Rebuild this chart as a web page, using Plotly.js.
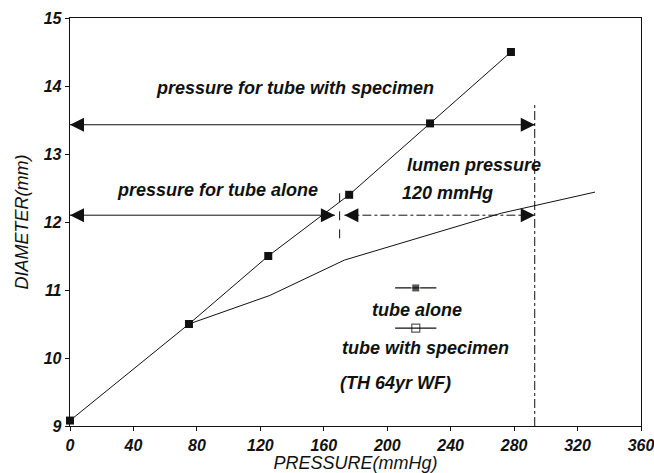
<!DOCTYPE html>
<html><head><meta charset="utf-8">
<script src="https://cdn.plot.ly/plotly-3.0.1.min.js"></script>
<style>html,body{margin:0;padding:0;background:#fff}#chart{width:654px;height:473px}</style>
</head><body><div id="chart"></div>
<script>
// Data
const aloneX = [0, 75, 125, 176, 227, 278];
const aloneY = [9.08, 10.5, 11.5, 12.4, 13.45, 14.5];
const specX = [75, 126, 173, 225, 272, 331];
const specY = [10.5, 10.92, 11.44, 11.8, 12.13, 12.44];

// Arrow guides: [x0, x1, y]
const arrowTop = [0, 293, 13.43];
const arrowLowL = [0, 167, 12.1];
const arrowLowR = [173, 293, 12.1];
const vertRight = [293, 9, 13.72];
const vertMid = [170, 11.76, 12.52];

// Legend sample positions
const legAloneLine = [205, 231, 11.03];
const legSpecLine = [205, 231, 10.44];

const xTicks = [0, 40, 80, 120, 160, 200, 240, 280, 320, 360];
const yTicks = [9, 10, 11, 12, 13, 14, 15];

const FONT = 'Liberation Sans, Arial, sans-serif';
const black = '#111';

function hline(a, dash) {
  return {x: [a[0], a[1]], y: [a[2], a[2]], mode: 'lines', line: {color: black, width: 1, dash: dash || 'solid'}, hoverinfo: 'skip', showlegend: false};
}
function heads(a) {
  return {x: [a[0], a[1]], y: [a[2], a[2]], mode: 'markers',
    marker: {symbol: ['arrow-left', 'arrow-right'], size: 14, color: black, line: {width: 0}}, hoverinfo: 'skip', showlegend: false, cliponaxis: false};
}

const traces = [
  {x: aloneX, y: aloneY, mode: 'lines+markers', line: {color: black, width: 1}, marker: {symbol: 'square', size: 8, color: black}, cliponaxis: false, showlegend: false},
  {x: specX, y: specY, mode: 'lines', line: {color: black, width: 1}, showlegend: false},
  hline(arrowTop), heads(arrowTop),
  hline(arrowLowL), heads(arrowLowL),
  hline(arrowLowR, 'dashdot'), heads(arrowLowR),
  {x: [vertRight[0], vertRight[0]], y: [vertRight[1], vertRight[2]], mode: 'lines', line: {color: black, width: 1, dash: 'dashdot'}, showlegend: false, hoverinfo: 'skip'},
  {x: [vertMid[0], vertMid[0]], y: [vertMid[1], vertMid[2]], mode: 'lines', line: {color: black, width: 1, dash: 'dash'}, showlegend: false, hoverinfo: 'skip'},
  {x: [legAloneLine[0], (legAloneLine[0] + legAloneLine[1]) / 2, legAloneLine[1]], y: [legAloneLine[2], legAloneLine[2], legAloneLine[2]], mode: 'lines+markers',
    line: {color: black, width: 1.3}, marker: {symbol: 'square', size: [0, 8, 0], color: black}, showlegend: false, hoverinfo: 'skip'},
  {x: [legSpecLine[0], (legSpecLine[0] + legSpecLine[1]) / 2, legSpecLine[1]], y: [legSpecLine[2], legSpecLine[2], legSpecLine[2]], mode: 'lines+markers',
    line: {color: black, width: 1.3}, marker: {symbol: 'square-open', size: [0, 8, 0], color: black, line: {width: 1.2}}, showlegend: false, hoverinfo: 'skip'}
];

const tf = {family: FONT, size: 18, color: black, weight: 'bold', style: 'italic'};
function ann(text, x, y, xanchor) {
  return {text: text, x: x, y: y, xref: 'x', yref: 'y', showarrow: false, xanchor: xanchor || 'center', yanchor: 'middle', font: tf};
}

const layout = {
  width: 654, height: 473,
  margin: {l: 70, r: 13, t: 18, b: 47},
  paper_bgcolor: '#fff', plot_bgcolor: '#fff',
  showlegend: false,
  xaxis: {range: [0, 360], tickvals: xTicks, ticks: 'outside', ticklen: 4, tickcolor: black, ticklabeloverflow: 'allow',
    showgrid: false, zeroline: false, showline: true, mirror: true, linecolor: black, linewidth: 1.3,
    tickfont: {family: FONT, size: 16, color: black, weight: 'bold', style: 'italic'},
    title: {text: 'PRESSURE(mmHg)', standoff: 0, font: {family: FONT, size: 18, color: black, style: 'italic'}}},
  yaxis: {range: [9, 15], tickvals: yTicks, ticks: 'outside', ticklen: 4, tickcolor: black, ticklabeloverflow: 'allow',
    showgrid: false, zeroline: false, showline: true, mirror: true, linecolor: black, linewidth: 1.3,
    tickfont: {family: FONT, size: 16, color: black, weight: 'bold', style: 'italic'},
    title: {text: 'DIAMETER(mm)', standoff: 10, font: {family: FONT, size: 18, color: black, style: 'italic'}}},
  annotations: [
    ann('pressure for tube with specimen', 142, 13.97),
    ann('pressure for tube alone', 93, 12.47),
    ann('lumen pressure', 211, 12.84, 'left'),
    ann('120 mmHg', 208, 12.43, 'left'),
    ann('tube alone', 219, 10.71),
    ann('tube with specimen', 224, 10.15),
    ann('(TH 64yr WF)', 169, 9.63, 'left')
  ]
};

Plotly.newPlot('chart', traces, layout, {displayModeBar: false, staticPlot: true});
</script></body></html>
